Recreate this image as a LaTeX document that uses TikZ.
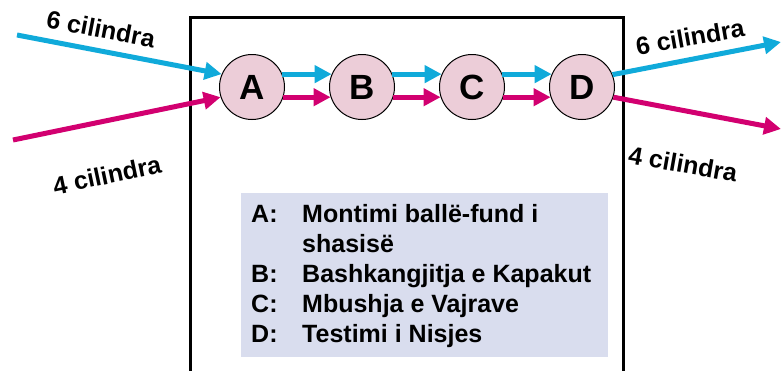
\documentclass[tikz,border=0pt]{standalone}
\usepackage{fontspec}
\setmainfont{Liberation Sans}
\usetikzlibrary{arrows.meta}
\definecolor{cyanline}{RGB}{16,170,218}
\definecolor{magline}{RGB}{210,0,112}
\definecolor{circfill}{RGB}{236,205,216}
\definecolor{legfill}{RGB}{217,221,238}
\begin{document}
\begin{tikzpicture}[x=1pt,y=-1pt,
  station/.style={circle,draw=black,line width=1pt,fill=circfill,minimum size=65pt,inner sep=0pt,font=\fontsize{35}{35}\selectfont\bfseries},
  flow/.style={line width=5pt,-{Triangle[length=17pt,width=17pt]}},
  cyl/.style={font=\fontsize{25}{25}\selectfont\bfseries,inner sep=0pt},
  leg/.style={font=\fontsize{25}{25}\selectfont\bfseries,inner sep=0pt,anchor=base west}]
\useasboundingbox (0,0) rectangle (782,370);
% frame
\draw[line width=3pt] (190,375) -- (190,17) -- (623,17) -- (623,375);
% stations
\node[station] (A) at (252,87) {A};
\node[station] (B) at (362,87) {B};
\node[station] (C) at (472,87) {C};
\node[station] (D) at (582,87) {D};
% internal arrows
\draw[flow,cyanline] (A.23) -- (B.157);
\draw[flow,cyanline] (B.23) -- (C.157);
\draw[flow,cyanline] (C.23) -- (D.157);
\draw[flow,magline] (A.-18) -- (B.198);
\draw[flow,magline] (B.-18) -- (C.198);
\draw[flow,magline] (C.-18) -- (D.198);
% incoming / outgoing
\coordinate (inC) at (17,35);
\coordinate (inM) at (13,140);
\coordinate (outC) at (781,42);
\coordinate (outM) at (781,129);
\draw[flow,cyanline] (inC) -- (A.157);
\draw[flow,magline] (inM) -- (A.198);
\draw[flow,cyanline] (D.22) -- (outC);
\draw[flow,magline] (D.-18) -- (outM);
% labels
\node[cyl,rotate=-11] (l6) at (101,29) {6 cilindra};
\node[cyl,rotate=12] (l4) at (107,175) {4 cilindra};
\node[cyl,rotate=10] (r6) at (690,37) {6 cilindra};
\node[cyl,rotate=-10] (r4) at (683,164) {4 cilindra};
% legend
\fill[legfill] (241,193) rectangle (608,357);
\node[leg] (ka) at (251,222) {A:};
\node[leg] (ta) at (302,222) {Montimi ballë-fund i};
\node[leg] (ta2) at (302,252) {shasisë};
\node[leg] (kb) at (251,282) {B:};
\node[leg] (tb) at (302,282) {Bashkangjitja e Kapakut};
\node[leg] (kc) at (251,312) {C:};
\node[leg] (tc) at (302,312) {Mbushja e Vajrave};
\node[leg] (kd) at (251,342) {D:};
\node[leg] (td) at (302,342) {Testimi i Nisjes};
\end{tikzpicture}
\end{document}
